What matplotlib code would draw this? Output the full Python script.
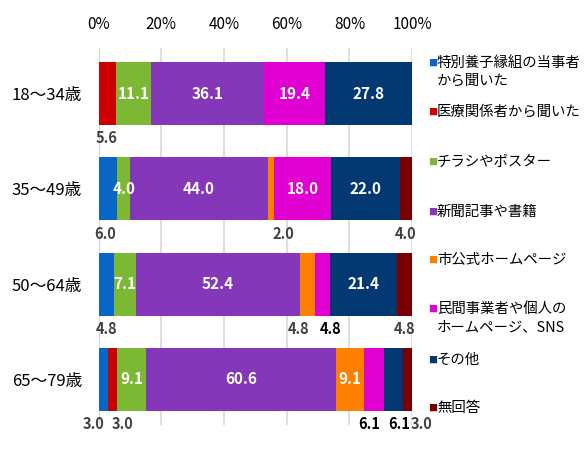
import numpy as np
import matplotlib
matplotlib.use("Agg")
import matplotlib.pyplot as plt

plt.rcParams['font.family'] = ['Noto Sans CJK JP', 'DejaVu Sans']

groups = ["18～34歳", "35～49歳", "50～64歳", "65～79歳"]
series = ["特別養子縁組の当事者\nから聞いた", "医療関係者から聞いた", "チラシやポスター",
          "新聞記事や書籍", "市公式ホームページ", "民間事業者や個人の\nホームページ、SNS",
          "その他", "無回答"]
colors = ["#0866C6", "#CC0000", "#7DB834", "#8537BA", "#FF8000", "#E000D2", "#043873", "#780000"]

adoption = [0.0, 6.0, 4.8, 3.0]
medical = [5.6, 0.0, 0.0, 3.0]
flyer = [11.1, 4.0, 7.1, 9.1]
newspaper = [36.1, 44.0, 52.4, 60.6]
city_web = [0.0, 2.0, 4.8, 9.1]
private_web = [19.4, 18.0, 4.8, 6.1]
other = [27.8, 22.0, 21.4, 6.1]
no_answer = [0.0, 4.0, 4.8, 3.0]
values = np.array([adoption, medical, flyer, newspaper, city_web, private_web, other, no_answer])

# labels drawn below the bar: (row, series) -> x nudge in %
below = {(0, 1): -0.4, (1, 0): -0.8, (1, 4): 4, (1, 7): 0,
         (2, 0): 0, (2, 4): -3, (2, 5): 2.5, (2, 7): 0,
         (3, 0): -3, (3, 1): 3, (3, 5): -1.5, (3, 6): 2, (3, 7): 4.5}
below_color = {5: "black", 6: "black"}

fig = plt.figure(figsize=(5.87, 4.5), dpi=100)
ax = fig.add_axes([0.168, 1 - 425 / 450, 0.534, 1 - 48 / 450 - (1 - 425 / 450)])

y = np.arange(len(groups))
left = np.zeros(len(groups))
for i in range(len(series)):
    ax.barh(y, values[i], left=left, height=0.66, color=colors[i], zorder=3)
    for r in range(len(groups)):
        v = values[i][r]
        if v == 0:
            continue
        cx = left[r] + v / 2
        if (r, i) in below:
            ax.text(cx + below[(r, i)], y[r] + 0.47, f"{v:.1f}", ha="center", va="center",
                    fontsize=10.5, fontweight="bold", color=below_color.get(i, "#404040"),
                    clip_on=False, zorder=4)
        else:
            ax.text(cx, y[r], f"{v:.1f}", ha="center", va="center",
                    fontsize=11, fontweight="bold", color="white", zorder=4)
    left += values[i]

ax.set_xlim(0, 100)
ax.set_ylim(3.48, -0.48)
ax.set_xticks(np.arange(0, 101, 20))
ax.set_xticklabels([f"{t}%" for t in range(0, 101, 20)], fontsize=11)
ax.xaxis.tick_top()
ax.tick_params(axis="x", length=0, pad=11)
ax.set_yticks(y)
ax.set_yticklabels(groups, fontsize=12)
ax.tick_params(axis="y", length=0, pad=12)
ax.grid(axis="x", color="#D9D9D9", linewidth=1.2, zorder=0)
ax.axvline(0, color="#BFBFBF", linewidth=1.5, zorder=1)
for s in ax.spines.values():
    s.set_visible(False)

legend_y = [72, 112, 162, 212, 260, 318, 360, 408]
for i, name in enumerate(series):
    yy = 1 - legend_y[i] / 450
    first = 1 - (legend_y[i] - (9 if "\n" in name else 0)) / 450
    fig.text(428 / 587, first, "■", color=colors[i], fontsize=6.5, va="center", ha="left")
    fig.text(437 / 587, yy, name, fontsize=10.4, va="center", ha="left", linespacing=1.35)

fig.savefig("out.png", dpi=100)
